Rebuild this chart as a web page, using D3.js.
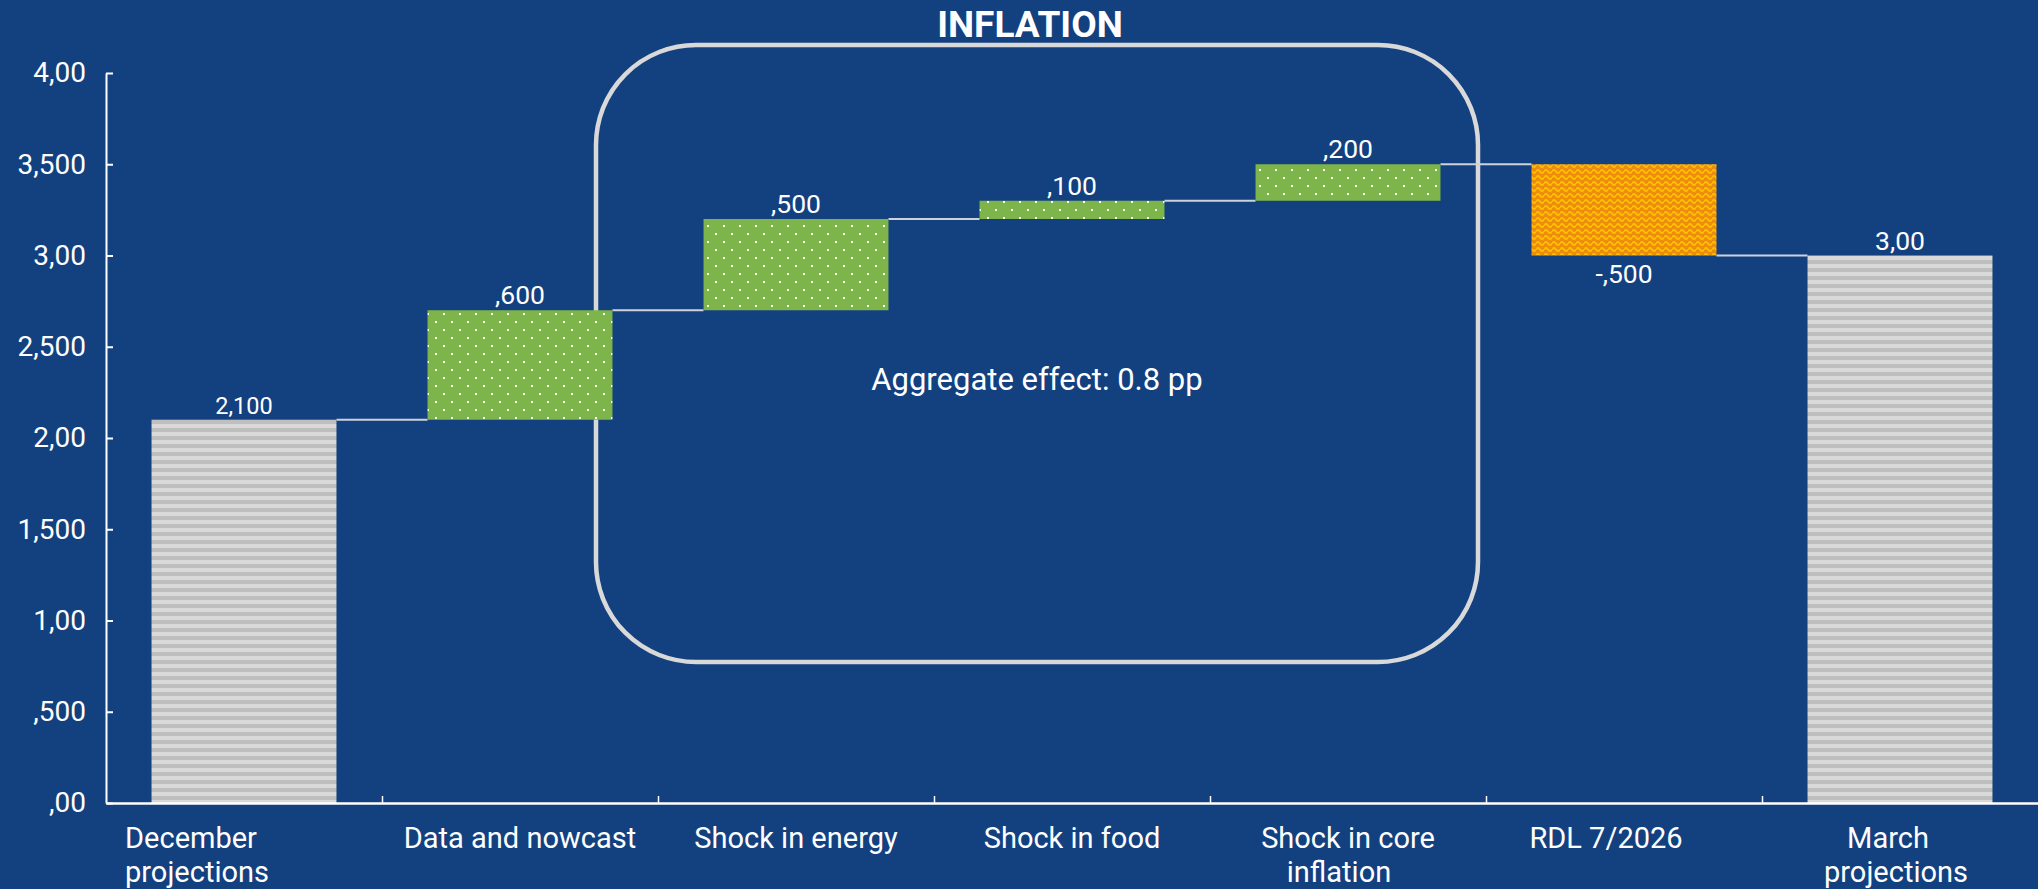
<!DOCTYPE html>
<html>
<head>
<meta charset="utf-8">
<script src="https://cdn.jsdelivr.net/npm/d3@7"></script>
<style>
  html, body { margin: 0; padding: 0; background: #13417F; }
  svg { display: block; font-family: Roboto, "Noto Sans", sans-serif; }
</style>
</head>
<body>
<svg id="chart" width="2038" height="889"></svg>
<script>
// Inflation waterfall: December projections to March projections
const categories = ["December projections", "Data and nowcast", "Shock in energy", "Shock in food", "Shock in core inflation", "RDL 7/2026", "March projections"];
const categoryLines = [["December", "projections"], ["Data and nowcast"], ["Shock in energy"], ["Shock in food"], ["Shock in core", "inflation"], ["RDL 7/2026"], ["March", "projections"]];
const stepValues = [2.1, 0.6, 0.5, 0.1, 0.2, -0.5, 3.0];
const stepKinds = ["total", "up", "up", "up", "up", "down", "total"];
const valueLabels = ["2,100", ",600", ",500", ",100", ",200", "-,500", "3,00"];
const yTickValues = [0, 0.5, 1, 1.5, 2, 2.5, 3, 3.5, 4];
const yTickLabels = [",00", ",500", "1,00", "1,500", "2,00", "2,500", "3,00", "3,500", "4,00"];
const titleText = "INFLATION";
const noteText = "Aggregate effect: 0.8 pp";

const W = 2038, H = 889;
const plot = { left: 106, right: 2038, top: 73, bottom: 803 };

const svg = d3.select("#chart");

// fill patterns
const defs = svg.append("defs");
const grey = defs.append("pattern").attr("id", "greyStripes")
  .attr("patternUnits", "userSpaceOnUse").attr("width", 8).attr("height", 8);
grey.append("rect").attr("width", 8).attr("height", 8).attr("fill", "#D9D9D9");
grey.append("rect").attr("y", 4).attr("width", 8).attr("height", 4).attr("fill", "#BFBFBF");

const green = defs.append("pattern").attr("id", "greenDots")
  .attr("patternUnits", "userSpaceOnUse").attr("width", 16).attr("height", 16);
green.append("rect").attr("width", 16).attr("height", 16).attr("fill", "#7DB54A");
green.append("rect").attr("x", 3).attr("y", 1).attr("width", 2).attr("height", 2).attr("fill", "#ffffff");
green.append("rect").attr("x", 11).attr("y", 9).attr("width", 2).attr("height", 2).attr("fill", "#ffffff");

const orange = defs.append("pattern").attr("id", "orangeWaves")
  .attr("patternUnits", "userSpaceOnUse").attr("width", 8).attr("height", 6);
orange.append("rect").attr("width", 8).attr("height", 6).attr("fill", "#EE8C10");
orange.append("path").attr("d", "M0,3.5 Q2,0.5 4,3.5 T8,3.5")
  .attr("fill", "none").attr("stroke", "#FFC000").attr("stroke-width", 1.8);

const fills = { total: "url(#greyStripes)", up: "url(#greenDots)", down: "url(#orangeWaves)" };

// scales
const x = d3.scaleBand().domain(categories).range([plot.left, plot.right])
  .paddingInner(0.33).paddingOuter(0.165);
const y = d3.scaleLinear().domain([0, 4]).range([plot.bottom, plot.top]);

// running start/end of each step
let running = 0;
const steps = categories.map((c, i) => {
  const v = stepValues[i];
  let start, end;
  if (stepKinds[i] === "total") { start = 0; end = v; }
  else { start = running; end = running + v; }
  running = end;
  return { cat: c, kind: stepKinds[i], start, end, label: valueLabels[i], lines: categoryLines[i] };
});

// annotation box round the shocks
svg.append("rect")
  .attr("x", 596).attr("y", 45).attr("width", 882).attr("height", 617)
  .attr("rx", 100).attr("ry", 100)
  .attr("fill", "none").attr("stroke", "#D9D9D9").attr("stroke-width", 4.5);

// connectors between consecutive bars
svg.append("g").selectAll("line")
  .data(steps.slice(0, -1))
  .join("line")
  .attr("x1", (d) => x(d.cat) + x.bandwidth())
  .attr("x2", (d, i) => x(steps[i + 1].cat))
  .attr("y1", (d) => y(d.end))
  .attr("y2", (d) => y(d.end))
  .attr("stroke", "#CDD2DA").attr("stroke-width", 2);

// bars
svg.append("g").selectAll("rect")
  .data(steps)
  .join("rect")
  .attr("x", (d) => x(d.cat))
  .attr("width", x.bandwidth())
  .attr("y", (d) => y(Math.max(d.start, d.end)))
  .attr("height", (d) => Math.abs(y(d.start) - y(d.end)))
  .attr("fill", (d) => fills[d.kind]);

// value labels (first label is set a little smaller)
const labelSize = (i) => (i === 0 ? 23.5 : 26.5);
svg.append("g").selectAll("text")
  .data(steps)
  .join("text")
  .attr("x", (d) => x(d.cat) + x.bandwidth() / 2)
  .attr("y", (d) => d.kind === "down" ? y(Math.min(d.start, d.end)) + 27 : y(Math.max(d.start, d.end)) - 6)
  .attr("text-anchor", "middle")
  .attr("fill", "#ffffff")
  .attr("font-size", (d, i) => labelSize(i))
  .text((d) => d.label);

// y axis
const yAxis = d3.axisLeft(y)
  .tickValues(yTickValues)
  .tickFormat((d, i) => yTickLabels[i])
  .tickSizeInner(-7).tickSizeOuter(0).tickPadding(20);
const gy = svg.append("g").attr("transform", `translate(${plot.left},0)`).call(yAxis);
gy.select(".domain").attr("stroke", "#ffffff").attr("stroke-width", 2);
gy.selectAll(".tick line").attr("stroke", "#ffffff").attr("stroke-width", 2);
gy.selectAll(".tick text").attr("fill", "#ffffff").attr("font-size", 28)
  .attr("font-family", "Roboto, 'Noto Sans', sans-serif");

// x axis: baseline with ticks at category boundaries
const xb = d3.scaleLinear().domain([0, categories.length]).range([plot.left, plot.right]);
const xAxis = d3.axisBottom(xb)
  .tickValues(d3.range(1, categories.length))
  .tickFormat("")
  .tickSizeInner(-7).tickSizeOuter(0);
const gx = svg.append("g").attr("transform", `translate(0,${plot.bottom})`).call(xAxis);
gx.select(".domain").attr("stroke", "#ffffff").attr("stroke-width", 2.5);
gx.selectAll(".tick line").attr("stroke", "#ffffff").attr("stroke-width", 1.5);

// category labels (per-line horizontal nudges)
const lineNudge = [[-53, -47], [0], [0], [0], [0, -9], [-18], [-12, -4]];
const cat = svg.append("g").selectAll("text")
  .data(steps)
  .join("text")
  .attr("fill", "#ffffff")
  .attr("font-size", 29)
  .attr("text-anchor", "middle");
cat.each(function (d, i) {
  const t = d3.select(this);
  d.lines.forEach((ln, j) => {
    t.append("tspan")
      .attr("x", x(d.cat) + x.bandwidth() / 2 + lineNudge[i][j])
      .attr("y", 848 + j * 34)
      .text(ln);
  });
});

// title
svg.append("text")
  .attr("x", 1030).attr("y", 37)
  .attr("text-anchor", "middle")
  .attr("fill", "#ffffff")
  .attr("font-size", 37).attr("font-weight", "bold")
  .text(titleText);

// note inside the box
svg.append("text")
  .attr("x", 1037).attr("y", 390)
  .attr("text-anchor", "middle")
  .attr("fill", "#ffffff")
  .attr("font-size", 31)
  .text(noteText);
</script>
</body>
</html>
